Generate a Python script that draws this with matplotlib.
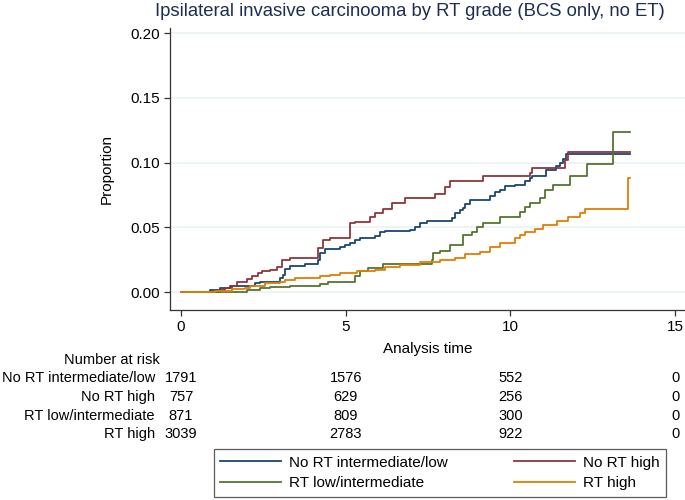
import matplotlib
matplotlib.use('Agg')
import matplotlib.pyplot as plt
from matplotlib.transforms import blended_transform_factory
from matplotlib.lines import Line2D

plt.rcParams['font.family'] = ['Liberation Sans', 'DejaVu Sans']

# step curves: (time, cumulative proportion)
t_nort_low = [0, 0.88, 1.18, 1.49, 2.25, 2.40, 3.01, 3.10, 3.16, 3.31, 3.77, 4.16, 4.22, 4.37,
              4.83, 4.98, 5.13, 5.28, 5.44, 5.89, 6.04, 6.19, 6.95, 7.11, 7.26, 7.47, 8.23,
              8.32, 8.47, 8.56, 8.62, 8.78, 9.38, 9.54, 9.69, 9.84, 10.14, 10.45, 10.60,
              10.66, 11.08, 11.39, 11.51, 11.60, 11.69, 13.63]
p_nort_low = [0, 0.0015, 0.003, 0.005, 0.007, 0.008, 0.011, 0.013, 0.018, 0.020, 0.022, 0.025,
              0.030, 0.033, 0.035, 0.036, 0.038, 0.040, 0.042, 0.043, 0.046, 0.047, 0.048,
              0.050, 0.053, 0.055, 0.057, 0.061, 0.063, 0.065, 0.068, 0.071, 0.074, 0.077,
              0.079, 0.082, 0.083, 0.086, 0.088, 0.090, 0.094, 0.097, 0.100, 0.103, 0.107, 0.107]

t_nort_high = [0, 1.18, 1.33, 1.55, 1.70, 2.00, 2.15, 2.34, 2.46, 2.70, 2.91, 3.07, 3.31, 4.16,
               4.31, 4.53, 5.13, 5.28, 5.74, 5.89, 6.13, 6.41, 6.80, 7.71, 8.02, 8.17, 9.17,
               10.60, 10.66, 11.66, 11.75, 13.63]
p_nort_high = [0, 0.0015, 0.003, 0.005, 0.008, 0.010, 0.012, 0.015, 0.016, 0.017, 0.019, 0.025,
               0.026, 0.034, 0.040, 0.042, 0.053, 0.054, 0.058, 0.061, 0.064, 0.069, 0.073,
               0.076, 0.081, 0.086, 0.090, 0.092, 0.096, 0.102, 0.108, 0.108]

t_rt_low = [0, 2.00, 2.40, 2.70, 3.31, 4.22, 4.46, 5.28, 5.44, 5.68, 6.13, 7.62, 7.65, 7.87, 8.17,
            8.56, 8.84, 8.99, 9.17, 9.69, 10.29, 10.45, 10.60, 10.90, 11.05, 11.30, 11.81,
            12.33, 13.12, 13.63]
p_rt_low = [0, 0.0015, 0.003, 0.004, 0.005, 0.006, 0.008, 0.012, 0.016, 0.0185, 0.022, 0.025,
            0.030, 0.032, 0.036, 0.044, 0.046, 0.050, 0.053, 0.058, 0.062, 0.066, 0.069,
            0.073, 0.079, 0.083, 0.090, 0.099, 0.124, 0.124]

t_rt_high = [0, 1.03, 1.55, 1.94, 2.10, 2.55, 3.01, 3.16, 3.46, 4.22, 4.52, 4.83, 5.34, 5.89,
             6.19, 6.65, 7.26, 7.87, 8.32, 8.62, 9.08, 9.38, 9.69, 10.14, 10.29, 10.45, 10.75,
             10.99, 11.42, 11.75, 12.12, 12.27, 13.57, 13.63]
p_rt_high = [0, 0.001, 0.002, 0.003, 0.005, 0.007, 0.008, 0.009, 0.011, 0.012, 0.013, 0.015,
             0.016, 0.017, 0.019, 0.021, 0.023, 0.025, 0.026, 0.029, 0.031, 0.035, 0.038,
             0.042, 0.044, 0.046, 0.049, 0.052, 0.055, 0.058, 0.061, 0.064, 0.088, 0.088]

groups = ['No RT intermediate/low', 'No RT high', 'RT low/intermediate', 'RT high']
colors = ['#1a476f', '#90353b', '#55752f', '#e37e00']
risk_times = [0, 5, 10, 15]
at_risk = [[1791, 1576, 552, 0],
           [757, 629, 256, 0],
           [871, 809, 300, 0],
           [3039, 2783, 922, 0]]

fig = plt.figure(figsize=(6.85, 5.0), dpi=100)
ax = fig.add_axes([170 / 685, 1 - 310 / 500, 515 / 685, 282 / 500])

curves = [(t_nort_low, p_nort_low), (t_nort_high, p_nort_high),
          (t_rt_low, p_rt_low), (t_rt_high, p_rt_high)]
for (t, p), c in zip(curves, colors):
    ax.plot(t, p, drawstyle='steps-post', color=c, lw=1.3)

ax.set_xlim(-0.334, 15.3)
ax.set_ylim(-0.0139, 0.204)
ax.set_yticks([0, 0.05, 0.10, 0.15, 0.20])
ax.set_yticklabels(['0.00', '0.05', '0.10', '0.15', '0.20'])
ax.set_xticks([0, 5, 10, 15])
ax.grid(axis='y', color='#eaf2f3', lw=1.2)
ax.set_axisbelow(True)
for s in ['top', 'right']:
    ax.spines[s].set_visible(False)
for s in ['left', 'bottom']:
    ax.spines[s].set_color('#333333')
    ax.spines[s].set_linewidth(0.9)
ax.tick_params(length=4, width=0.9, color='#333333', labelsize=11, pad=3)
ax.set_ylabel('Proportion', fontsize=11, labelpad=12)
ax.set_xlabel('Analysis time', fontsize=11, labelpad=6)

fig.text(410 / 685, 1 - 11 / 500, 'Ipsilateral invasive carcinooma by RT grade (BCS only, no ET)',
         ha='center', va='center', fontsize=13.3, color='#1e2d53')

# number at risk table
tr = blended_transform_factory(ax.transData, fig.transFigure)
fig.text(160 / 685, 1 - 360 / 500, 'Number at risk', ha='right', va='center', fontsize=10.5)
row_y = [378, 397, 416, 434]
for name, counts, y in zip(groups, at_risk, row_y):
    fig.text(155 / 685, 1 - y / 500, name, ha='right', va='center', fontsize=10.5)
    for tt, n in zip(risk_times, counts):
        ax.text(tt, 1 - y / 500, str(n), transform=tr, ha='center', va='center', fontsize=10.5)

handles = [Line2D([], [], color=c, lw=1.3) for c in colors]
order = [0, 2, 1, 3]
leg = fig.legend([handles[i] for i in order], [groups[i] for i in order], ncol=2,
                 loc='center', bbox_to_anchor=(440 / 685, 1 - 473 / 500), fontsize=11,
                 frameon=True, fancybox=False, edgecolor='#333333', handlelength=4.0,
                 columnspacing=4.3, handletextpad=0.55, borderpad=0.4, labelspacing=0.45)
leg.get_frame().set_linewidth(0.9)

fig.savefig('out.png', dpi=100, facecolor='white')
